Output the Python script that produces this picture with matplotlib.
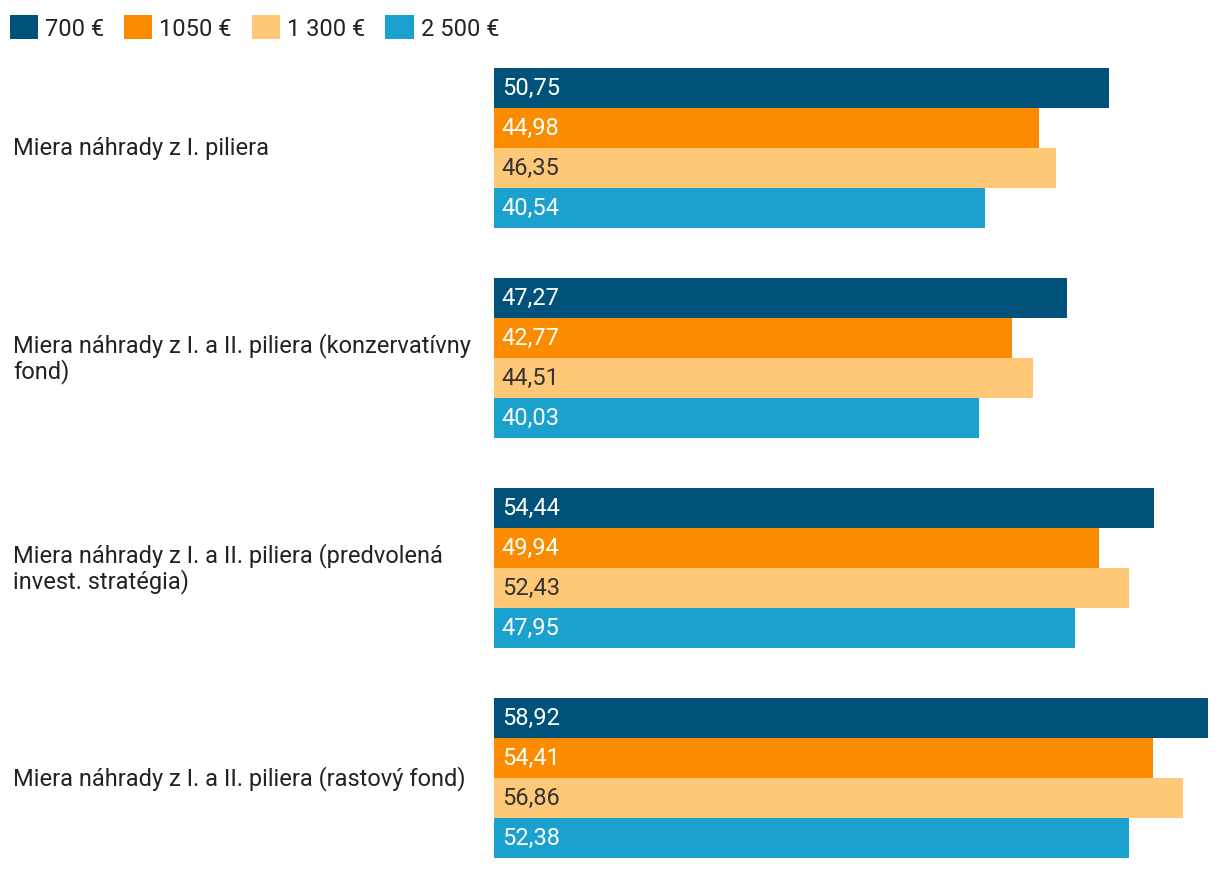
import matplotlib
matplotlib.use("Agg")
import matplotlib.pyplot as plt
from matplotlib.patches import Patch

plt.rcParams['font.family'] = ['Roboto', 'DejaVu Sans']

categories = [
    "Miera náhrady z I. piliera",
    "Miera náhrady z I. a II. piliera (konzervatívny\nfond)",
    "Miera náhrady z I. a II. piliera (predvolená\ninvest. stratégia)",
    "Miera náhrady z I. a II. piliera (rastový fond)",
]
series_names = ["700 €", "1050 €", "1 300 €", "2 500 €"]
values = {
    "700 €":   [50.75, 47.27, 54.44, 58.92],
    "1050 €":  [44.98, 42.77, 49.94, 54.41],
    "1 300 €": [46.35, 44.51, 52.43, 56.86],
    "2 500 €": [40.54, 40.03, 47.95, 52.38],
}
colors = ["#00527B", "#FB8C00", "#FEC876", "#1AA1CE"]
text_colors = ["white", "white", "#333333", "white"]

W, H = 1220, 870
fig = plt.figure(figsize=(W / 100, H / 100), dpi=100)
left, right, top, bottom = 494, 1208, 68.5, 858.5
ax = fig.add_axes([left / W, 1 - bottom / H, (right - left) / W, (bottom - top) / H])

period = 5.25
fs = 17
for j, name in enumerate(series_names):
    ys = [i * period + j + 0.5 for i in range(len(categories))]
    ax.barh(ys, values[name], height=1.0, color=colors[j], label=name)
    for y, v in zip(ys, values[name]):
        ax.text(0.65, y, f"{v:.2f}".replace(".", ","), va="center", ha="left",
                color=text_colors[j], fontsize=fs)

ax.set_xlim(0, 58.92)
ax.set_ylim(3 * period + 4, 0)
ax.axis("off")

for i, cat in enumerate(categories):
    yc = i * period + 2
    ax.text(-(left - 13) / (right - left) * 58.92, yc, cat, ha="left", va="center",
            fontsize=fs, color="#222222", linespacing=1.1)

handles = [Patch(facecolor=c, edgecolor="none") for c in colors]
fig.legend(handles, series_names, loc="upper left", bbox_to_anchor=(-2 / W, 1 - 4 / H),
           ncol=4, frameon=False, fontsize=fs, handlelength=1.19, handleheight=1.19,
           handletextpad=0.3, columnspacing=0.85, borderpad=0.0, labelcolor="#222222")

fig.savefig("out.png", dpi=100)
